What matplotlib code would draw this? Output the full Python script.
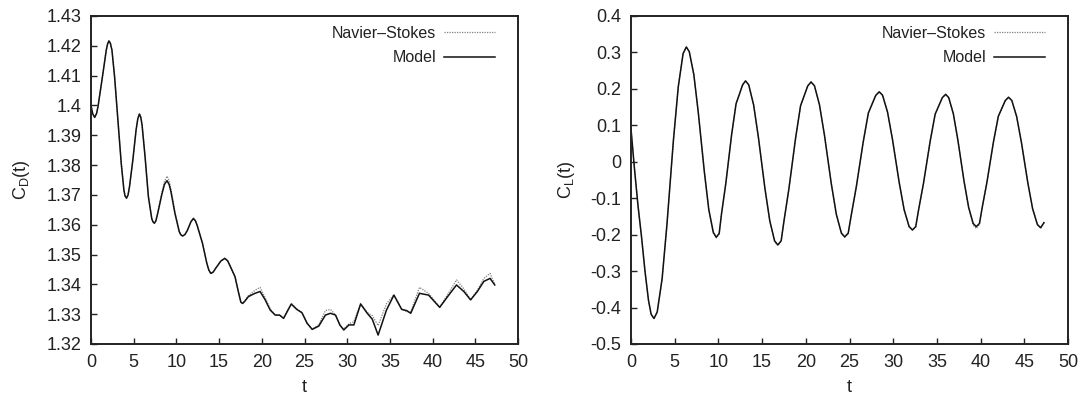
import matplotlib
matplotlib.use("Agg")
import matplotlib.pyplot as plt
from matplotlib.ticker import FuncFormatter

plt.rcParams['font.family'] = ['Liberation Sans', 'DejaVu Sans']
plt.rcParams['axes.unicode_minus'] = False

# ---- Drag coefficient (left panel) ----
cd_t = [0.0, 0.2, 0.43, 0.65, 0.82, 1.4, 1.79, 1.95, 2.1, 2.27,
        2.45, 2.76, 3.15, 3.54, 3.85, 3.98, 4.16, 4.34, 4.51, 4.9,
        5.28, 5.48, 5.67, 5.83, 5.98, 6.33, 6.72, 7.11, 7.25, 7.42,
        7.6, 7.81, 8.28, 8.6, 8.9, 9.15, 9.36, 9.83, 10.33, 10.5,
        10.72, 11.0, 11.3, 11.7, 12.0, 12.25, 12.47, 13.05, 13.56, 13.8,
        14.03, 14.3, 14.6, 15.2, 15.66, 16.0, 16.28, 16.86, 17.25, 17.55,
        17.76, 18.0, 18.43, 19.2, 19.8, 20.4, 20.98, 21.57, 22.08, 22.55,
        23.45, 24.1, 24.7, 25.3, 25.9, 26.67, 27.45, 28.04, 28.63, 29.14,
        29.6, 30.2, 30.78, 31.57, 32.35, 32.94, 33.62, 34.6, 35.47, 36.38,
        36.97, 37.44, 38.46, 39.53, 40.83, 41.89, 42.8, 43.66, 44.45, 45.24,
        46.0, 46.73, 47.28]
cd_model = [1.4, 1.3972, 1.396, 1.3973, 1.3996, 1.4108, 1.4186, 1.4207, 1.4216, 1.4208,
            1.4186, 1.4097, 1.3951, 1.3806, 1.3717, 1.3697, 1.3689, 1.37, 1.3728, 1.3817,
            1.3918, 1.3955, 1.3971, 1.396, 1.3934, 1.3828, 1.3694, 1.3621, 1.361, 1.3605,
            1.3613, 1.3638, 1.37, 1.3735, 1.3748, 1.3735, 1.3711, 1.3638, 1.3577, 1.3567,
            1.3562, 1.3567, 1.3582, 1.361, 1.3621, 1.3612, 1.3594, 1.3538, 1.3471, 1.3448,
            1.3437, 1.3441, 1.3454, 1.3478, 1.3487, 1.3479, 1.3462, 1.3426, 1.3376, 1.334,
            1.3336, 1.3343, 1.3359, 1.337, 1.3376, 1.3348, 1.3314, 1.3297, 1.3297, 1.3286,
            1.3334, 1.3316, 1.3305, 1.327, 1.3249, 1.326, 1.3297, 1.3303, 1.3297, 1.3264,
            1.3247, 1.3264, 1.3264, 1.3334, 1.3303, 1.3283, 1.323, 1.3314, 1.3364, 1.3316,
            1.3312, 1.3303, 1.337, 1.3364, 1.3323, 1.3364, 1.3398, 1.3376, 1.3348, 1.3376,
            1.341, 1.342, 1.3398]
cd_ns = [1.4, 1.3972, 1.396, 1.3973, 1.3996, 1.4108, 1.4186, 1.4208, 1.4218, 1.421,
         1.4187, 1.4097, 1.3951, 1.3806, 1.3717, 1.3697, 1.3689, 1.37, 1.3728, 1.3817,
         1.3918, 1.3957, 1.3973, 1.3963, 1.3937, 1.3830, 1.3696, 1.3621, 1.361, 1.3605,
         1.3614, 1.3640, 1.3706, 1.3745, 1.3763, 1.3748, 1.3720, 1.3643, 1.3579, 1.3568,
         1.3562, 1.3567, 1.3582, 1.3611, 1.3622, 1.3613, 1.3595, 1.3539, 1.3471, 1.3447,
         1.3435, 1.3440, 1.3454, 1.3479, 1.3488, 1.3480, 1.3463, 1.3426, 1.3376, 1.334,
         1.3336, 1.3345, 1.3362, 1.3380, 1.3390, 1.3355, 1.3318, 1.3297, 1.3297, 1.3288,
         1.3336, 1.3318, 1.3305, 1.3268, 1.3250, 1.3265, 1.3312, 1.3316, 1.3298, 1.3262,
         1.3250, 1.3268, 1.3275, 1.3336, 1.3306, 1.3295, 1.3262, 1.3335, 1.3365, 1.3318,
         1.3308, 1.3308, 1.3390, 1.3370, 1.3323, 1.3372, 1.3415, 1.3385, 1.3348, 1.3380,
         1.3420, 1.3437, 1.3400]

# ---- Lift coefficient (right panel) ----
cl_t = [0.0, 0.4, 0.8, 1.2, 1.6, 2.0, 2.3, 2.63,
        3.0, 3.56, 4.11, 4.85, 5.41, 5.96, 6.33,
        6.67, 7.19, 7.70, 8.39, 8.90, 9.42, 9.76,
        10.09, 10.35, 10.85, 11.51, 12.02, 12.77, 13.1,
        13.47, 14.03, 14.58, 15.32, 15.88, 16.43, 16.8,
        17.18, 17.5, 18.07, 18.83, 19.4, 20.22, 20.6,
        20.99, 21.56, 22.14, 22.91, 23.49, 24.07, 24.45,
        24.85, 25.19, 25.78, 26.57, 27.16, 28.0, 28.4,
        28.78, 29.35, 29.92, 30.68, 31.25, 31.82, 32.2,
        32.58, 32.9, 33.47, 34.23, 34.8, 35.62, 36.0,
        36.35, 36.88, 37.4, 38.1, 38.63, 39.15, 39.5,
        39.87, 40.18, 40.73, 41.47, 42.03, 42.83, 43.2,
        43.57, 44.12, 44.67, 45.4, 45.95, 46.5, 46.87, 47.25]
cl_model = [0.09, -0.02, -0.12, -0.205, -0.3, -0.38, -0.418, -0.43,
            -0.412, -0.321, -0.173, 0.058, 0.206, 0.297, 0.315,
            0.302, 0.239, 0.135, -0.027, -0.131, -0.194, -0.207,
            -0.1965, -0.144, -0.059, 0.074, 0.159, 0.211, 0.222,
            0.211, 0.156, 0.0665, -0.0725, -0.162, -0.217, -0.228,
            -0.217, -0.163, -0.0736, 0.0646, 0.1536, 0.208, 0.219,
            0.2086, 0.1568, 0.0722, -0.059, -0.1438, -0.1956, -0.206,
            -0.196, -0.148, -0.0685, 0.0545, 0.134, 0.182, 0.192,
            0.1827, 0.1365, 0.061, -0.056, -0.1315, -0.1777, -0.187,
            -0.1779, -0.1325, -0.0585, 0.0565, 0.1305, 0.1759, 0.185,
            0.1761, 0.1319, 0.0596, -0.0526, -0.1249, -0.1691, -0.178,
            -0.1693, -0.126, -0.0553, 0.0543, 0.125, 0.1683, 0.177,
            0.1682, 0.1246, 0.0533, -0.0573, -0.1286, -0.1722, -0.181, -0.167]
cl_ns = [0.09, -0.02, -0.12, -0.205, -0.3, -0.38, -0.419, -0.431,
         -0.413, -0.321, -0.173, 0.058, 0.206, 0.297, 0.315,
         0.302, 0.239, 0.135, -0.027, -0.132, -0.196, -0.209,
         -0.198, -0.144, -0.059, 0.074, 0.159, 0.211, 0.222,
         0.211, 0.156, 0.0665, -0.0725, -0.163, -0.219, -0.230,
         -0.218, -0.163, -0.0736, 0.0646, 0.1536, 0.208, 0.219,
         0.2086, 0.1568, 0.0722, -0.059, -0.1438, -0.1966, -0.207,
         -0.197, -0.148, -0.0685, 0.0545, 0.134, 0.182, 0.192,
         0.1827, 0.1365, 0.061, -0.056, -0.1315, -0.1787, -0.188,
         -0.1785, -0.1325, -0.0585, 0.0565, 0.1305, 0.1759, 0.185,
         0.1761, 0.1319, 0.0596, -0.0526, -0.1259, -0.1741, -0.183,
         -0.1720, -0.126, -0.0553, 0.0543, 0.125, 0.1683, 0.177,
         0.1682, 0.1246, 0.0533, -0.0573, -0.1290, -0.1730, -0.182, -0.168]

xticks = [0, 5, 10, 15, 20, 25, 30, 35, 40, 45, 50]
cd_yticks = [1.32, 1.33, 1.34, 1.35, 1.36, 1.37, 1.38, 1.39, 1.4, 1.41, 1.42, 1.43]
cl_yticks = [-0.5, -0.4, -0.3, -0.2, -0.1, 0, 0.1, 0.2, 0.3, 0.4]

fig = plt.figure(figsize=(10.85, 4.0), dpi=100)
ax1 = fig.add_axes([91 / 1085, 1 - 344 / 400, 427 / 1085, 328 / 400])
ax2 = fig.add_axes([631 / 1085, 1 - 344 / 400, 437 / 1085, 328 / 400])


def gfmt(v, pos):
    return '%g' % round(v, 4)


for ax in (ax1, ax2):
    for sp in ax.spines.values():
        sp.set_linewidth(1.4)
        sp.set_color('#222222')
    ax.tick_params(direction='in', length=4.5, width=1.0, labelsize=13,
                   colors='#222222', pad=7)
    ax.set_xlim(0, 50)
    ax.set_xticks(xticks)
    ax.yaxis.set_major_formatter(FuncFormatter(gfmt))
    ax.set_xlabel('t', fontsize=13, labelpad=6, color='#222222')

ax1.plot(cd_t, cd_ns, color='#808080', lw=0.9, ls=(0, (1, 1)),
         solid_joinstyle='round', label='Navier\u2013Stokes')
ax1.plot(cd_t, cd_model, color='#111111', lw=1.1, solid_joinstyle='round', label='Model')
ax1.set_ylim(1.32, 1.43)
ax1.set_yticks(cd_yticks)
ax1.set_ylabel(r'C$_\mathregular{D}$(t)', fontsize=13, labelpad=10, color='#222222')

ax2.plot(cl_t, cl_ns, color='#808080', lw=0.9, ls=(0, (1, 1)),
         solid_joinstyle='round', label='Navier\u2013Stokes')
ax2.plot(cl_t, cl_model, color='#111111', lw=1.1, solid_joinstyle='round', label='Model')
ax2.set_ylim(-0.5, 0.4)
ax2.set_yticks(cl_yticks)
ax2.set_ylabel(r'C$_\mathregular{L}$(t)', fontsize=13, labelpad=10, color='#222222')

for ax, ax_w in ((ax1, 427), (ax2, 437)):
    leg = ax.legend(loc='upper right', frameon=False, markerfirst=False, fontsize=11.5,
                    handlelength=3.2, handletextpad=0.5, labelspacing=0.6,
                    borderpad=0.4, borderaxespad=0.0,
                    bbox_to_anchor=(1 - 16.5 / ax_w, 1 - 3.5 / 328))
    for txt in leg.get_texts():
        txt.set_color('#222222')

fig.savefig('out.png', dpi=100)
